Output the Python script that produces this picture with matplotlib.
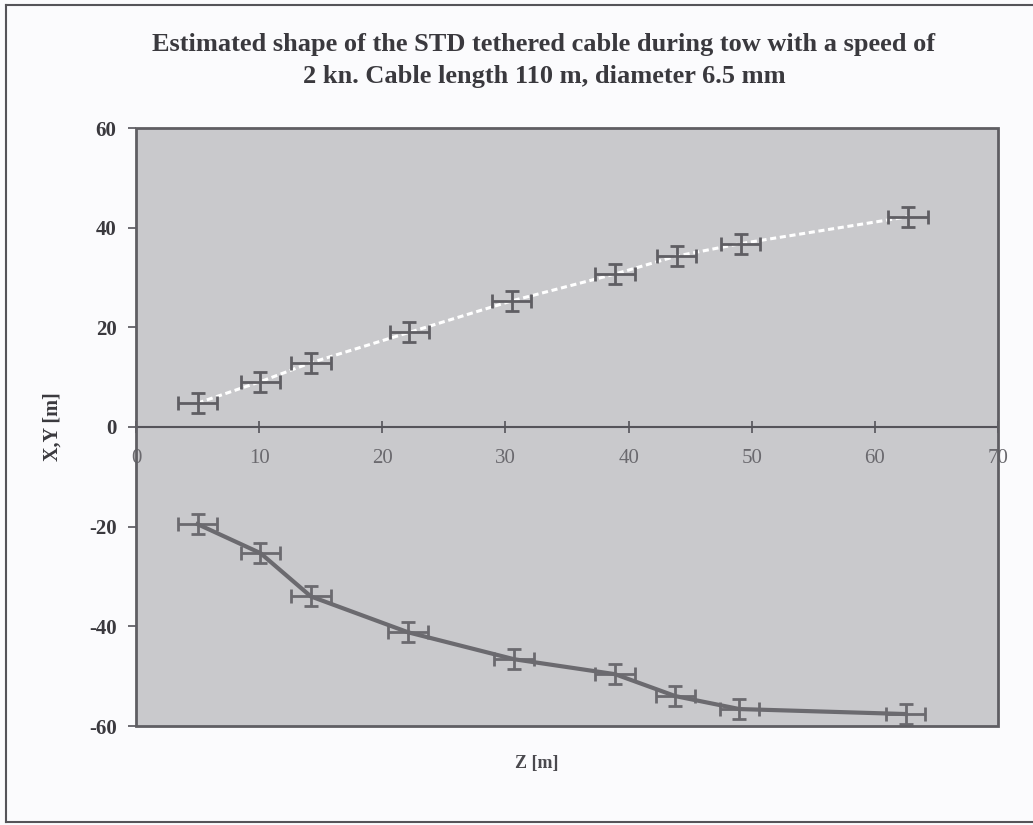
import matplotlib
matplotlib.use("Agg")
import matplotlib.pyplot as plt
from matplotlib.patches import Rectangle
from matplotlib.lines import Line2D

# ---- data ----
z_upper = [5.0, 10.1, 14.2, 22.2, 30.5, 38.9, 43.9, 49.1, 62.7]
xy_upper = [4.8, 9.1, 12.9, 19.0, 25.3, 30.7, 34.3, 36.8, 42.2]
z_lower = [5.0, 10.1, 14.2, 22.1, 30.7, 38.9, 43.8, 49.0, 62.5]
xy_lower = [-19.5, -25.3, -34.0, -41.2, -46.6, -49.6, -54.0, -56.6, -57.6]
z_err = [1.6] * 9
xy_err = [2.0] * 9

x_ticks = [0, 10, 20, 30, 40, 50, 60, 70]
y_ticks = [-60, -40, -20, 0, 20, 40, 60]

title = ("Estimated shape of the STD tethered cable during tow with a speed of\n"
         "2 kn. Cable length 110 m, diameter 6.5 mm")

plt.rcParams['font.family'] = ['Liberation Serif', 'DejaVu Serif']

fig = plt.figure(figsize=(10.33, 8.25), dpi=100)
fig.patch.set_facecolor('#fbfbfd')

W, H = 1033, 825
L, R, T, B = 136, 998, 128, 726
ax = fig.add_axes([L / W, 1 - B / H, (R - L) / W, (B - T) / H])
ax.set_facecolor('#c9c9cc')

ax.set_xlim(0, 70)
ax.set_ylim(-60, 60)

# series
ax.plot(z_upper, xy_upper, color='white', lw=2.2, ls=(0, (2, 1.2)), zorder=3)
ax.plot(z_lower, xy_lower, color='#6b6a6f', lw=3.0, zorder=3)
ax.errorbar(z_upper, xy_upper, xerr=z_err, yerr=xy_err, fmt='none',
            ecolor='#5f5e63', elinewidth=2.0, capsize=5, capthick=2.0, zorder=4)
ax.errorbar(z_lower, xy_lower, xerr=z_err, yerr=xy_err, fmt='none',
            ecolor='#6b6a6f', elinewidth=2.0, capsize=5, capthick=2.0, zorder=4)

# axes: x axis crossing at y = 0
for s in ['top', 'right', 'left']:
    ax.spines[s].set_visible(False)
ax.spines['bottom'].set_position(('data', 0))
ax.spines['bottom'].set_color('#55545a')
ax.spines['bottom'].set_linewidth(1.5)
ax.add_patch(Rectangle((0, 0), 1, 1, transform=ax.transAxes, fill=False,
                       edgecolor='#5f5e63', lw=2.0, clip_on=False, zorder=5))

ax.set_xticks(x_ticks)
ax.set_xticklabels([str(v) for v in x_ticks])
ax.set_yticks(y_ticks)
ax.set_yticklabels([str(v) for v in y_ticks])

ax.tick_params(axis='x', direction='inout', length=9, width=1.2, color='#55545a',
               pad=11, labelsize=15, labelcolor='#6a696e')
ax.tick_params(axis='y', direction='out', length=6, width=1.2, color='#55545a',
               pad=8, labelsize=15, labelcolor='#3a393e')
for lab in ax.get_yticklabels():
    lab.set_fontweight('bold')

ax.set_ylabel('X,Y [m]', fontsize=14.5, fontweight='bold', color='#3a393e')
ax.yaxis.set_label_coords(-0.085, 0.5)
ax.text(0.465, -0.062, 'Z [m]', transform=ax.transAxes, ha='center', va='center',
        fontsize=13, fontweight='bold', color='#4a494e')

fig.text(544 / W, 1 - 61 / H, title, ha='center', va='center', fontsize=19,
         fontweight='bold', color='#3a393e', linespacing=1.5)

# page border
for xs, ys in [([6, 6], [5, 822]), ([6, 1033], [5, 5]), ([6, 1033], [822, 822])]:
    fig.add_artist(Line2D([x / W for x in xs], [1 - y / H for y in ys],
                          color='#555459', lw=1.5))

fig.savefig('out.png', dpi=100, facecolor=fig.get_facecolor())
